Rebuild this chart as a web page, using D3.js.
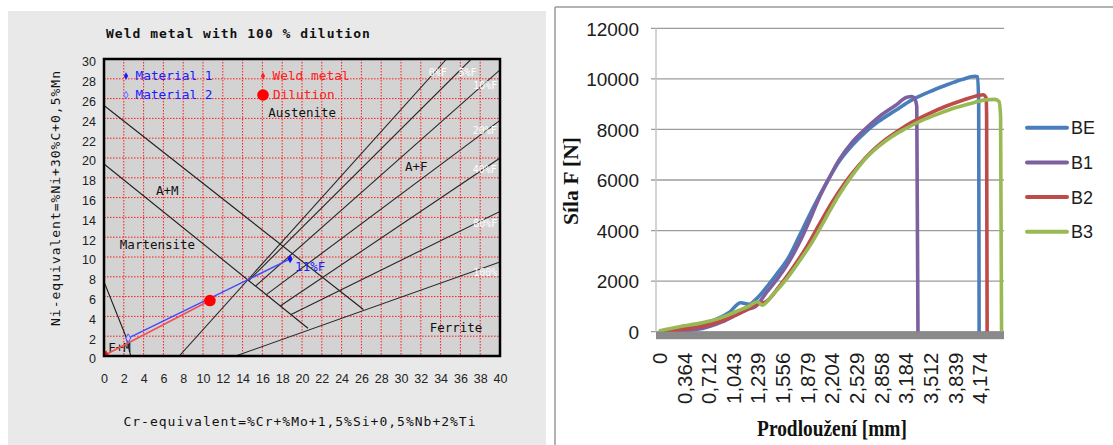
<!DOCTYPE html>
<html>
<head>
<meta charset="utf-8">
<script src="https://cdn.jsdelivr.net/npm/d3@7"></script>
<style>
  html, body { margin: 0; padding: 0; background: #fff; }
  svg { display: block; }
</style>
</head>
<body>
<svg id="chart" width="1113" height="445"></svg>
<script>
// ===== Schaeffler diagram: Cr-equivalent (x) vs Ni-equivalent (y) =====
const crTicks = d3.range(0, 41, 2);
const niTicks = d3.range(0, 31, 2);

// phase boundaries, [Cr_eq, Ni_eq]
const boundaryAM1 = [[0, 25.3], [26.2, 4.7]];
const boundaryAM2 = [[0, 19.4], [20.6, 2.8]];
const boundaryFM = [[0, 7.5], [2.2, 2.0], [2.7, 0]];

// iso-ferrite lines
const ferriteNames = ["0%F", "5%F", "10%F", "20%F", "40%F", "80%F", "100%F"];
const ferriteLines = [
  [[7.6, 0], [34.6, 30]],
  [[14.6, 7.6], [37.1, 30]],
  [[15.3, 7.05], [40, 28.9]],
  [[16.4, 6.2], [40, 23.8]],
  [[17.8, 5.05], [40, 20.0]],
  [[18.9, 4.2], [40, 14.6]],
  [[13.3, 0], [40, 9.5]]
];
const ferriteLabelAt = [[32.8, 28.6], [35.8, 28.6], [37.3, 27.3], [37.25, 22.75], [37.25, 18.85], [37.3, 13.4], [37.3, 8.4]];

const regionNames = ["Austenite", "A+F", "A+M", "Martensite", "Ferrite", "F+M"];
const regionAt = [[16.6, 24.6], [30.4, 19.1], [5.25, 16.7], [1.6, 11.3], [32.9, 2.86], [0.43, 0.88]];

// compositions
const material1 = [18.8, 9.8];
const material2 = [2.45, 1.8];
const weldMetal = [0.2, 0.15];
const dilution = [10.7, 5.6];
const material1Ferrite = "11%F";

const legendNames = ["Material 1", "Material 2", "Weld metal", "Dilution"];

// ===== Tensile test: force vs elongation =====
const elongTicks = [0, 0.364, 0.712, 1.043, 1.239, 1.556, 1.879, 2.204, 2.529, 2.858, 3.184, 3.512, 3.839, 4.174];
const elongEnd = 4.5;
const forceTicks = [0, 2000, 4000, 6000, 8000, 10000, 12000];

const seriesNames = ["BE", "B1", "B2", "B3"];
const seriesColors = ["#4a7ebb", "#7d60a0", "#be4b48", "#98b954"];

// [elongation mm, force N]
const forceBE = [[0, 0], [0.299, 158], [0.584, 290], [0.814, 487], [0.992, 763], [1.105, 1145], [1.171, 1079],
  [1.225, 1276], [1.386, 1882], [1.514, 2395], [1.644, 2961], [1.775, 3750], [1.906, 4566], [2.037, 5330],
  [2.169, 6053], [2.300, 6711], [2.477, 7370], [2.653, 7896], [2.830, 8317], [3.051, 8750], [3.272, 9172],
  [3.492, 9475], [3.713, 9738], [3.937, 9974], [4.117, 10105], [4.150, 10080], [4.165, 9000], [4.171, 0]];
const forceB1 = [[0, 0], [0.299, 40], [0.631, 130], [0.903, 395], [1.092, 724], [1.171, 900], [1.225, 1000],
  [1.344, 1513], [1.514, 2171], [1.644, 2763], [1.775, 3487], [1.906, 4342], [2.037, 5263], [2.169, 6053],
  [2.300, 6776], [2.477, 7500], [2.653, 8027], [2.830, 8487], [3.051, 8947], [3.205, 9276], [3.272, 9300],
  [3.305, 9230], [3.335, 8900], [3.351, 0]];
const forceB2 = [[0, 0], [0.299, 66], [0.584, 197], [0.858, 395], [1.066, 658], [1.171, 921], [1.258, 1118],
  [1.344, 1184], [1.514, 1776], [1.689, 2500], [1.863, 3290], [2.037, 4211], [2.214, 5132], [2.389, 5921],
  [2.564, 6579], [2.742, 7145], [2.919, 7593], [3.094, 7961], [3.272, 8290], [3.492, 8618], [3.713, 8908],
  [3.937, 9145], [4.161, 9342], [4.224, 9373], [4.263, 9250], [4.270, 8600], [4.277, 0]];
const forceB3 = [[0, 30], [0.299, 197], [0.584, 329], [0.858, 526], [1.066, 790], [1.171, 1013], [1.238, 1184],
  [1.301, 1053], [1.430, 1447], [1.601, 2040], [1.775, 2763], [1.951, 3553], [2.125, 4474], [2.300, 5395],
  [2.477, 6184], [2.653, 6842], [2.830, 7329], [3.007, 7724], [3.183, 8027], [3.404, 8355], [3.624, 8618],
  [3.845, 8855], [4.072, 9040], [4.250, 9170], [4.382, 9190], [4.435, 9100], [4.455, 8500], [4.468, 0]];
const seriesData = [forceBE, forceB1, forceB2, forceB3];

const svg = d3.select("#chart");

// ---------------------------------------------------------------
// Left panel: Schaeffler diagram
// ---------------------------------------------------------------
const mono = "'DejaVu Sans Mono', monospace";
svg.append("rect").attr("x", 8).attr("y", 11).attr("width", 538).attr("height", 440).attr("fill", "#e9e9e9");

const L = { left: 104, right: 500, top: 59, bottom: 356 };
const cx = d3.scaleLinear().domain([0, 40]).range([L.left, L.right]);
const ny = d3.scaleLinear().domain([0, 30]).range([L.bottom, L.top]);

svg.append("defs").append("clipPath").attr("id", "plotClip")
  .append("rect").attr("x", L.left).attr("y", L.top).attr("width", L.right - L.left).attr("height", L.bottom - L.top);

svg.append("rect").attr("x", L.left).attr("y", L.top).attr("width", L.right - L.left).attr("height", L.bottom - L.top)
  .attr("fill", "#d3d3d3");

const left = svg.append("g").attr("clip-path", "url(#plotClip)");

// dotted grid
left.append("g").selectAll("line").data(crTicks.filter(d => d > 0 && d < 40)).join("line")
  .attr("x1", d => cx(d)).attr("x2", d => cx(d)).attr("y1", L.top).attr("y2", L.bottom)
  .attr("stroke", "#ff1a1a").attr("stroke-width", 1).attr("stroke-dasharray", "1.5,1.5");
left.append("g").selectAll("line").data(niTicks.filter(d => d > 0 && d < 30)).join("line")
  .attr("y1", d => ny(d)).attr("y2", d => ny(d)).attr("x1", L.left).attr("x2", L.right)
  .attr("stroke", "#ff1a1a").attr("stroke-width", 1).attr("stroke-dasharray", "1.5,1.5");

const pline = d3.line().x(d => cx(d[0])).y(d => ny(d[1]));

// phase boundaries
[boundaryAM1, boundaryAM2, boundaryFM].forEach(b => {
  left.append("path").attr("d", pline(b)).attr("fill", "none").attr("stroke", "#1e1e1e").attr("stroke-width", 1.1);
});
ferriteLines.forEach(b => {
  left.append("path").attr("d", pline(b)).attr("fill", "none").attr("stroke", "#262626").attr("stroke-width", 1.1);
});

// iso-ferrite labels
left.append("g").selectAll("text").data(ferriteNames).join("text")
  .attr("x", (d, i) => cx(ferriteLabelAt[i][0])).attr("y", (d, i) => ny(ferriteLabelAt[i][1]))
  .attr("dy", "0.35em").attr("fill", "#ffffff")
  .style("font-family", mono).style("font-size", "10px").text(d => d);

// region labels
left.append("g").selectAll("text").data(regionNames).join("text")
  .attr("x", (d, i) => cx(regionAt[i][0])).attr("y", (d, i) => ny(regionAt[i][1]))
  .attr("dy", "0.35em").attr("fill", "#111")
  .style("font-family", mono).style("font-size", "12.5px").text(d => d);

// dilution path: weld metal -> dilution point, material 2 -> material 1
left.append("path").attr("d", pline([weldMetal, dilution])).attr("stroke", "#f05050").attr("stroke-width", 1.6).attr("fill", "none");
left.append("path").attr("d", pline([material2, material1])).attr("stroke", "#4646ff").attr("stroke-width", 1.4).attr("fill", "none");

const diamond = d3.symbol().type(d3.symbolDiamond).size(22);
left.append("path").attr("d", diamond).attr("transform", `translate(${cx(material1[0])},${ny(material1[1])})`).attr("fill", "#1010ff");
left.append("path").attr("d", diamond).attr("transform", `translate(${cx(material2[0])},${ny(material2[1])})`)
  .attr("fill", "#c8c8ff").attr("stroke", "#5050ff").attr("stroke-width", 1);
left.append("path").attr("d", diamond).attr("transform", `translate(${cx(weldMetal[0])},${ny(weldMetal[1])})`).attr("fill", "#ff1010");
left.append("circle").attr("cx", cx(dilution[0])).attr("cy", ny(dilution[1])).attr("r", 5.8).attr("fill", "#ff0000");

left.append("text").attr("x", cx(material1[0]) + 5).attr("y", ny(material1[1]) + 7.5).attr("dy", "0.35em")
  .attr("fill", "#1a1aff").style("font-family", mono).style("font-size", "12.5px").text(material1Ferrite);

// legend
const legendCols = [L.left + 22, L.left + 159];
const legendRows = [L.top + 17, L.top + 36];
const legendColor = ["#1a1aff", "#1a1aff", "#ff2020", "#ff2020"];
legendNames.forEach((name, i) => {
  const lx = legendCols[Math.floor(i / 2)], ly = legendRows[i % 2];
  const g = svg.append("g").attr("transform", `translate(${lx},${ly})`);
  if (i === 3) {
    g.append("circle").attr("r", 5.8).attr("fill", "#ff0000");
  } else if (i === 1) {
    g.append("path").attr("d", d3.symbol().type(d3.symbolDiamond).size(16)).attr("fill", "#c8c8ff").attr("stroke", "#6060ff").attr("stroke-width", 0.9);
  } else {
    g.append("path").attr("d", d3.symbol().type(d3.symbolDiamond).size(16)).attr("fill", legendColor[i]);
  }
  g.append("text").attr("x", i === 3 ? 10 : 9.5).attr("dy", "0.35em").attr("fill", legendColor[i])
    .style("font-family", mono).style("font-size", "12.8px").text(name);
});

// frame
svg.append("rect").attr("x", L.left).attr("y", L.top).attr("width", L.right - L.left).attr("height", L.bottom - L.top)
  .attr("fill", "none").attr("stroke", "#000").attr("stroke-width", 2.5);

// axes
const xAxisL = svg.append("g").attr("transform", `translate(0,${L.bottom})`)
  .call(d3.axisBottom(cx).tickValues(crTicks).tickSize(0).tickFormat(d3.format("d")));
xAxisL.select(".domain").remove();
xAxisL.selectAll("text").attr("y", 22.7).attr("dy", "0.35em")
  .style("font-family", "'Liberation Sans', sans-serif").style("font-size", "12.5px").attr("fill", "#222");

const yAxisL = svg.append("g").attr("transform", `translate(${L.left},0)`)
  .call(d3.axisLeft(ny).tickValues(niTicks).tickSize(0).tickFormat(d3.format("d")));
yAxisL.select(".domain").remove();
yAxisL.selectAll("text").attr("x", -8).attr("dy", "0.55em")
  .style("font-family", "'Liberation Sans', sans-serif").style("font-size", "12.5px").attr("fill", "#222");

svg.append("text").attr("x", 106).attr("y", 33).attr("dy", "0.35em")
  .style("font-family", mono).style("font-size", "13px").style("font-weight", "bold").style("letter-spacing", "1px")
  .attr("fill", "#111").text("Weld metal with 100 % dilution");
svg.append("text").attr("x", 300).attr("y", 421.7).attr("dy", "0.35em").attr("text-anchor", "middle")
  .style("font-family", mono).style("font-size", "13px").style("letter-spacing", "1px")
  .attr("fill", "#111").text("Cr-equivalent=%Cr+%Mo+1,5%Si+0,5%Nb+2%Ti");
svg.append("text").attr("transform", "translate(55.4,198) rotate(-90)").attr("dy", "0.35em").attr("text-anchor", "middle")
  .style("font-family", mono).style("font-size", "13px").style("letter-spacing", "1px")
  .attr("fill", "#111").text("Ni-equivalent=%Ni+30%C+0,5%Mn");

// ---------------------------------------------------------------
// Right panel: force vs elongation
// ---------------------------------------------------------------
svg.append("line").attr("x1", 555).attr("x2", 555).attr("y1", 7).attr("y2", 445).attr("stroke", "#9a9a9a").attr("stroke-width", 1.5);
svg.append("line").attr("x1", 555).attr("x2", 1113).attr("y1", 7).attr("y2", 7).attr("stroke", "#9a9a9a").attr("stroke-width", 1.5);

const R = { left: 656, right: 1004, top: 28.3, bottom: 331.7 };
const catStart = R.left + 3;
const catStep = (R.right - catStart) / elongTicks.length;
const elongDomain = elongTicks.concat([elongEnd]);
const ex = d3.scaleLinear().domain(elongDomain).range(elongDomain.map((d, i) => catStart + i * catStep));
const fy = d3.scaleLinear().domain([0, 12000]).range([R.bottom, R.top]);

const narrow = "'Liberation Sans Narrow', 'Liberation Sans', sans-serif";
const serif = "'Liberation Serif', 'Times New Roman', serif";

// gridlines with tick stubs
svg.append("g").selectAll("line").data(forceTicks).join("line")
  .attr("x1", R.left - 5).attr("x2", R.right).attr("y1", d => fy(d)).attr("y2", d => fy(d))
  .attr("stroke", "#9c9c9c").attr("stroke-width", 1.3);
svg.append("line").attr("x1", R.left).attr("x2", R.left).attr("y1", R.top).attr("y2", R.bottom)
  .attr("stroke", "#c4c4c4").attr("stroke-width", 1.5);

const yAxisR = svg.append("g").attr("transform", `translate(${R.left},0)`)
  .call(d3.axisLeft(fy).tickValues(forceTicks).tickSize(0).tickPadding(17).tickFormat(d3.format("d")));
yAxisR.select(".domain").remove();
yAxisR.selectAll("text").attr("dy", "0.36em").style("font-family", narrow).style("font-size", "19px").attr("fill", "#1c1c1c");

const commaFmt = d3.formatLocale({ decimal: ",", thousands: " ", grouping: [3], currency: ["", ""] }).format(".3f");
const xAxisR = svg.append("g").attr("transform", `translate(0,${R.bottom})`)
  .call(d3.axisBottom(ex).tickValues(elongTicks).tickSize(0).tickFormat(d => d === 0 ? "0" : commaFmt(d)));
xAxisR.select(".domain").remove();
xAxisR.selectAll("text")
  .attr("transform", "translate(0,21) rotate(-90)")
  .attr("x", 0).attr("y", 0).attr("dy", "0.36em").attr("text-anchor", "end")
  .style("font-family", narrow).style("font-size", "20.5px").attr("fill", "#1c1c1c");

const fline = d3.line().x(d => ex(d[0])).y(d => fy(d[1])).curve(d3.curveMonotoneX);
svg.append("g").selectAll("path").data(seriesData).join("path")
  .attr("d", fline).attr("fill", "none")
  .attr("stroke", (d, i) => seriesColors[i]).attr("stroke-width", 3.6)
  .attr("stroke-linejoin", "round");

// floor band under the zero line
svg.append("rect").attr("x", R.left).attr("y", R.bottom).attr("width", R.right - R.left).attr("height", 7.5)
  .attr("fill", "#8a8a8a");

// legend
const legR = svg.append("g");
seriesNames.forEach((name, i) => {
  const ly = 127.7 + i * 34.7;
  legR.append("line").attr("x1", 1027).attr("x2", 1067).attr("y1", ly).attr("y2", ly)
    .attr("stroke", seriesColors[i]).attr("stroke-width", 4).attr("stroke-linecap", "round");
  legR.append("text").attr("x", 1071).attr("y", ly).attr("dy", "0.36em")
    .style("font-family", narrow).style("font-size", "18px").attr("fill", "#1c1c1c").text(name);
});

// axis titles
svg.append("text").attr("transform", "translate(571,181) rotate(-90) scale(1.08,1)").attr("dy", "0.36em").attr("text-anchor", "middle")
  .style("font-family", serif).style("font-size", "20px").style("font-weight", "bold").attr("fill", "#111").text("Síla F [N]");
svg.append("text").attr("transform", "translate(832,428) scale(1,1.15)").attr("dy", "0.36em").attr("text-anchor", "middle")
  .style("font-family", serif).style("font-size", "19.4px").style("font-weight", "bold").attr("fill", "#111").text("Prodloužení [mm]");
</script>
</body>
</html>
